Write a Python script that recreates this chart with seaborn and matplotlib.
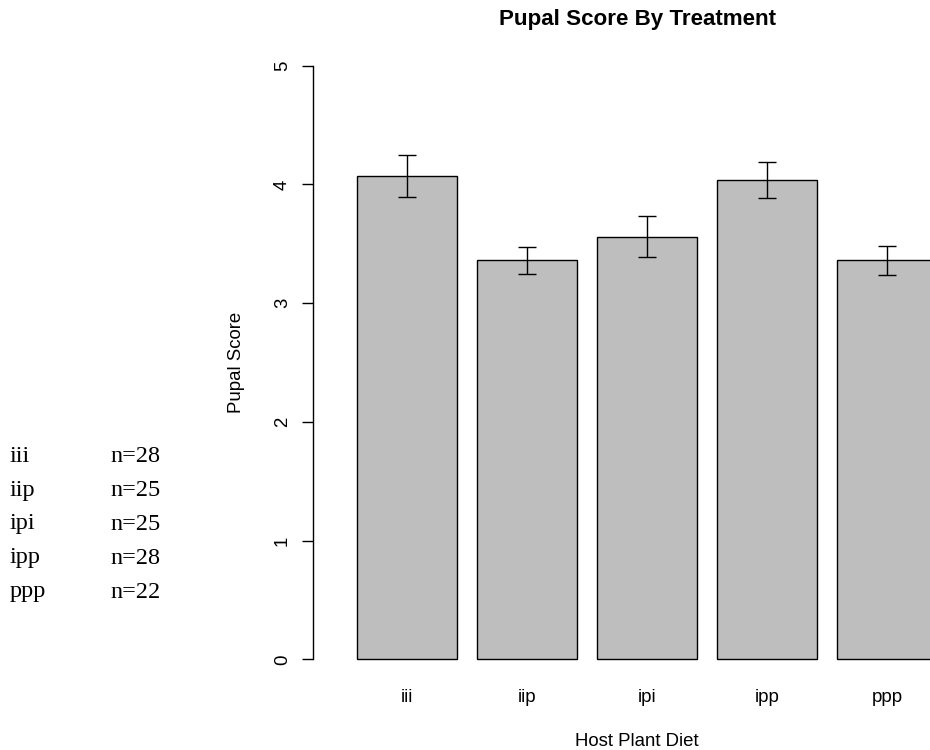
import matplotlib
matplotlib.use("Agg")
import matplotlib.pyplot as plt
import seaborn as sns
import pandas as pd
import numpy as np

# ---- data ----
diets = ["iii", "iip", "ipi", "ipp", "ppp"]
mean_score = [4.07, 3.36, 3.56, 4.04, 3.36]
se_score = [0.178, 0.113, 0.175, 0.150, 0.124]
n_counts = [28, 25, 25, 28, 22]
y_ticks = [0, 1, 2, 3, 4, 5]

df = pd.DataFrame({"diet": diets, "score": mean_score, "se": se_score})

sns.set_theme(style="white")
plt.rcParams["font.family"] = ["Liberation Sans", "DejaVu Sans"]

W, H = 930, 750
BASE = 13.4
fig = plt.figure(figsize=(W / 100, H / 100), dpi=100)

# axes placement in pixels (R-like layout, right side clipped)
ax_left_px, ax_right_px = 313, 930
ax_top_px, ax_bot_px = 42, 683
ax = fig.add_axes([ax_left_px / W, (H - ax_bot_px) / H,
                   (ax_right_px - ax_left_px) / W, (ax_bot_px - ax_top_px) / H])

sns.barplot(data=df, x="diet", y="score", order=diets, color="#bebebe",
            saturation=1, width=1 / 1.2, edgecolor="black", linewidth=1.0,
            errorbar=None, ax=ax)
ax.errorbar(np.arange(len(diets)), df["score"], yerr=df["se"], fmt="none",
            ecolor="black", elinewidth=1.0, capsize=6.2, capthick=1.0)

ax.set_xlim((ax_left_px - 407) / 120, (ax_right_px - 407) / 120)
ax.set_ylim(-0.2, 5.2)

for s in ["top", "right", "bottom"]:
    ax.spines[s].set_visible(False)
ax.spines["left"].set_bounds(0, 5)
ax.spines["left"].set_color("black")
ax.spines["left"].set_linewidth(1.0)

ax.set_yticks(y_ticks)
ax.set_yticklabels([str(t) for t in y_ticks], rotation=90, va="center",
                   fontsize=BASE)
ax.tick_params(axis="y", left=True, length=8, width=1.0, color="black", pad=8)
ax.tick_params(axis="x", bottom=False, length=0, pad=4.5, labelsize=BASE)

ax.set_xlabel("Host Plant Diet", fontsize=BASE, color="black")
ax.set_ylabel("Pupal Score", fontsize=BASE, color="black")
ax.xaxis.set_label_coords((637 - ax_left_px) / (ax_right_px - ax_left_px),
                          -(741 - ax_bot_px) / (ax_bot_px - ax_top_px))
ax.yaxis.set_label_coords(-(313 - 236) / (ax_right_px - ax_left_px), 0.5)
ax.xaxis.label.set_va("center")
ax.yaxis.label.set_va("center")
for lab in ax.get_yticklabels() + ax.get_xticklabels():
    lab.set_color("black")

fig.text(637 / W, 1 - 20 / H, "Pupal Score By Treatment", ha="center",
         va="center", fontsize=BASE * 1.2, fontweight="bold", color="black")

# left annotation of sample sizes
row_y = [457, 491, 524, 558, 592]
serif = ["Liberation Serif", "DejaVu Serif"]
for d, n, yy in zip(diets, n_counts, row_y):
    fig.text(10 / W, 1 - yy / H, d, ha="left", va="center",
             fontsize=17.5, family=serif, color="black")
    fig.text(110 / W, 1 - yy / H, f"n={n}", ha="left", va="center",
             fontsize=17.5, family=serif, color="black")

fig.savefig("out.png", dpi=100, facecolor="white")
